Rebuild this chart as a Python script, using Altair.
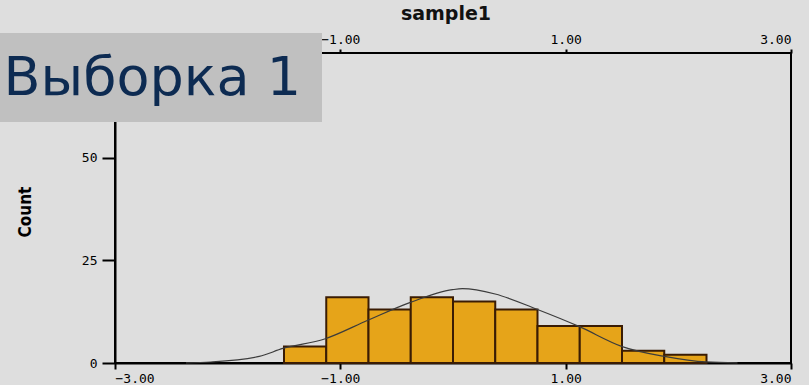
import altair as alt
import pandas as pd

# Histogram of sample1: bin edges and counts
bin_lo = [-1.5, -1.125, -0.75, -0.375, 0.0, 0.375, 0.75, 1.125, 1.5, 1.875]
bin_hi = [-1.125, -0.75, -0.375, 0.0, 0.375, 0.75, 1.125, 1.5, 1.875, 2.25]
counts = [4, 16, 13, 16, 15, 13, 9, 9, 3, 2]

# Normal curve overlay (x, expected count)
curve_x = [-2.37, -2.15, -1.72, -1.51, -1.14, -0.756, -0.384, -0.005, 0.084,
           0.374, 0.744, 1.123, 1.502, 1.877, 2.247, 2.525]
curve_y = [0.05, 0.25, 1.6, 3.55, 5.85, 10.4, 14.7, 17.85, 18.1,
           16.8, 13.1, 8.85, 4.0, 1.6, 0.25, 0.05]

x_ticks_bottom = [-3, -1, 1, 3]
x_ticks_top = [-1, 1, 3]
y_ticks = [0, 25, 50]

chart_title = "sample1"
y_title = "Count"
banner = "Выборка 1"

bars_df = pd.DataFrame({"lo": bin_lo, "hi": bin_hi, "count": counts})
curve_df = pd.DataFrame({"x": curve_x, "y": curve_y})

BG = "#dedede"
TICK_FONT = "DejaVu Sans Mono"

x_scale = alt.Scale(domain=[-3, 3], nice=False, zero=False)
y_scale = alt.Scale(domain=[0, 75.5], nice=False)

bars = alt.Chart(bars_df).mark_rect(
    fill="#e6a419", stroke="#3a1c04", strokeWidth=2
).encode(
    x=alt.X("lo:Q", scale=x_scale, axis=alt.Axis(
        orient="bottom", values=x_ticks_bottom, format=".2f", title=None,
        domainColor="black", domainWidth=2, tickColor="black", tickWidth=2,
        tickSize=6, labelPadding=3, labelFont=TICK_FONT, labelFontSize=13,
        labelColor="black", grid=False)),
    x2="hi:Q",
    y=alt.Y("count:Q", scale=y_scale, axis=alt.Axis(
        orient="left", values=y_ticks, title=None,
        domainColor="black", domainWidth=2, tickColor="black", tickWidth=2,
        tickSize=13, labelPadding=5, labelFont=TICK_FONT, labelFontSize=13,
        labelColor="black", grid=False)),
    y2=alt.datum(0),
)

curve = alt.Chart(curve_df).mark_line(
    color="#3c3c3c", strokeWidth=1.2, interpolate="monotone"
).encode(
    x=alt.X("x:Q", scale=x_scale, axis=alt.Axis(
        orient="top", values=x_ticks_top, format=".2f", title=None,
        domain=False, tickColor="black", tickWidth=2, tickSize=4,
        labelPadding=3, labelFont=TICK_FONT, labelFontSize=13,
        labelColor="black", grid=False)),
    y=alt.Y("y:Q", scale=y_scale, axis=None),
)

title_layer = alt.Chart(pd.DataFrame({"t": [chart_title]})).mark_text(
    font="DejaVu Sans", fontWeight="bold", fontSize=19, color="#111111",
    align="center", baseline="alphabetic"
).encode(x=alt.value(331), y=alt.value(-33), text="t:N")

ytitle_layer = alt.Chart(pd.DataFrame({"t": [y_title]})).mark_text(
    font="DejaVu Sans Condensed, Liberation Sans, sans-serif", fontWeight="bold",
    fontSize=17, color="black", angle=270, align="center", baseline="middle"
).encode(x=alt.value(-89), y=alt.value(159), text="t:N")

banner_box = alt.Chart(pd.DataFrame({"t": [banner]})).mark_rect(
    fill="#c0c0c0"
).encode(x=alt.value(-115), x2=alt.value(207), y=alt.value(-20), y2=alt.value(69))

banner_text = alt.Chart(pd.DataFrame({"t": [banner]})).mark_text(
    font="DejaVu Sans", fontSize=54, color="#0d2b52",
    align="right", baseline="alphabetic"
).encode(x=alt.value(186), y=alt.value(41.5), text="t:N")

chart = alt.layer(
    bars, curve, title_layer, ytitle_layer, banner_box, banner_text
).resolve_axis(
    x="independent", y="independent"
).properties(
    width=676, height=310,
    padding={"left": 115, "top": 53, "right": 18, "bottom": 22},
    autosize=alt.AutoSizeParams(type="none"),
    background=BG,
).configure_view(
    stroke="black", strokeWidth=2, fill=BG
)

chart.save("out.html", embed_options={"renderer": "svg", "actions": False})
